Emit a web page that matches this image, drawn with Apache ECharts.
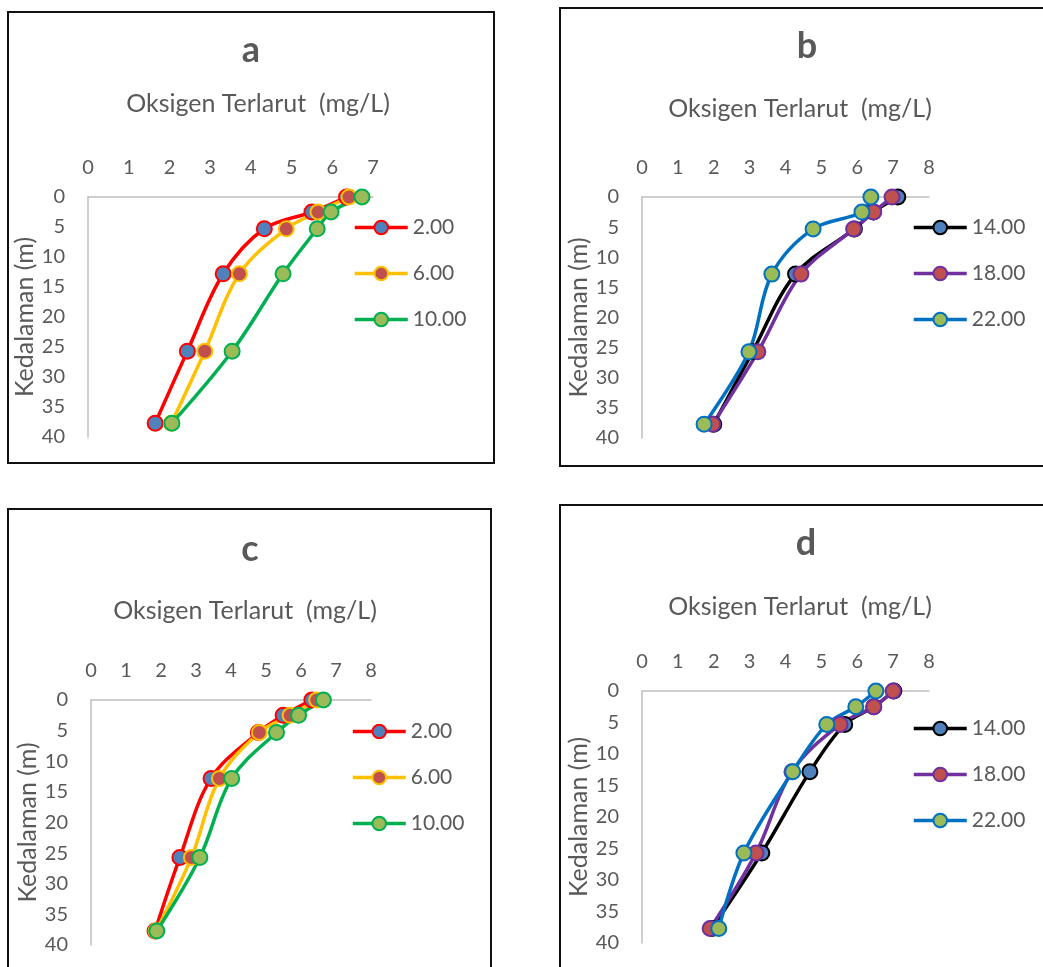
<!DOCTYPE html>
<html>
<head>
<meta charset="utf-8">
<script src="https://cdn.jsdelivr.net/npm/echarts@6/dist/echarts.min.js"></script>
<style>
  html, body { margin: 0; padding: 0; background: #fff; }
  #chart { width: 1043px; height: 967px; }
</style>
</head>
<body>
<div id="chart"></div>
<script>
// depth (m) of each sample
const depths = [0, 2.5, 5.3, 12.8, 25.7, 37.7]

// panel a / c : 2.00, 6.00, 10.00
const namesAC = ['2.00', '6.00', '10.00']
const a_2 = [6.35, 5.5, 4.33, 3.32, 2.44, 1.65]
const a_6 = [6.41, 5.65, 4.87, 3.72, 2.87, 2.05]
const a_10 = [6.73, 5.97, 5.63, 4.79, 3.54, 2.06]

const c_2 = [6.31, 5.49, 4.78, 3.43, 2.54, 1.83]
const c_6 = [6.45, 5.69, 4.81, 3.67, 2.87, 1.86]
const c_10 = [6.64, 5.93, 5.3, 4.02, 3.11, 1.88]

// panel b / d : 14.00, 18.00, 22.00
const namesBD = ['14.00', '18.00', '22.00']
const b_14 = [7.13, 6.45, 5.92, 4.28, 3.08, 2.0]
const b_18 = [6.97, 6.46, 5.9, 4.43, 3.23, 1.97]
const b_22 = [6.38, 6.13, 4.77, 3.62, 2.98, 1.73]

const d_14 = [7.02, 6.46, 5.65, 4.68, 3.34, 1.95]
const d_18 = [7.0, 6.46, 5.52, 4.18, 3.18, 1.9]
const d_22 = [6.52, 5.96, 5.15, 4.2, 2.84, 2.14]

const textColor = '#595959'
const font = 'Lato'

const panels = [
  { letter: 'a', grid: { left: 88, top: 197, width: 285, height: 240 }, xMax: 7,
    letterPos: [251, 50], namePos: [258, 104], legend: [353, 217],
    names: namesAC, data: [a_2, a_6, a_10] },
  { letter: 'b', grid: { left: 642, top: 197, width: 287, height: 241 }, xMax: 8,
    letterPos: [807, 46], namePos: [800, 109], legend: [912, 217],
    names: namesBD, data: [b_14, b_18, b_22] },
  { letter: 'c', grid: { left: 91, top: 700, width: 280, height: 245 }, xMax: 8,
    letterPos: [250, 549], namePos: [245, 611], legend: [351, 721],
    names: namesAC, data: [c_2, c_6, c_10] },
  { letter: 'd', grid: { left: 642, top: 691, width: 287, height: 252 }, xMax: 8,
    letterPos: [806, 543], namePos: [800, 607], legend: [912, 718],
    names: namesBD, data: [d_14, d_18, d_22] }
]

// line colour, marker fill
const stylesAC = [['#FF0000', '#4F81BD'], ['#FFC000', '#C0504D'], ['#00B050', '#9BBB59']]
const stylesBD = [['#000000', '#4F81BD'], ['#7030A0', '#C0504D'], ['#0070C0', '#9BBB59']]

const chart = echarts.init(document.getElementById('chart'))

const graphics = [
  { type: 'rect', shape: { x: 8, y: 12, width: 486, height: 451 }, style: { fill: 'none', stroke: '#111', lineWidth: 2 } },
  { type: 'rect', shape: { x: 560, y: 8, width: 500, height: 458 }, style: { fill: 'none', stroke: '#111', lineWidth: 2 } },
  { type: 'rect', shape: { x: 8, y: 509, width: 483, height: 480 }, style: { fill: 'none', stroke: '#111', lineWidth: 2 } },
  { type: 'rect', shape: { x: 560, y: 505, width: 500, height: 480 }, style: { fill: 'none', stroke: '#111', lineWidth: 2 } }
]

const option = {
  animation: false,
  backgroundColor: '#fff',
  textStyle: { fontFamily: font },
  grid: [],
  xAxis: [],
  yAxis: [],
  legend: [],
  series: [],
  graphic: graphics
}

panels.forEach((p, i) => {
  const styles = p.names === namesAC ? stylesAC : stylesBD
  graphics.push({
    type: 'text', x: p.letterPos[0], y: p.letterPos[1],
    style: { text: p.letter, align: 'center', verticalAlign: 'middle', fill: textColor,
      font: 'bold 36px Lato' }
  })
  graphics.push({
    type: 'text', x: p.namePos[0], y: p.namePos[1],
    style: { text: 'Oksigen Terlarut  (mg/L)', align: 'center', verticalAlign: 'middle', fill: textColor,
      font: '25px Lato' }
  })
  option.grid.push(p.grid)
  option.xAxis.push({
    type: 'value', gridIndex: i, position: 'top', min: 0, max: p.xMax, interval: 1,
    axisLine: { show: true, onZero: false, lineStyle: { color: '#BFBFBF', width: 1.5 } },
    axisTick: { show: false },
    splitLine: { show: false },
    axisLabel: { color: textColor, fontSize: 20, fontFamily: font, margin: 19 }
  })
  option.yAxis.push({
    type: 'value', gridIndex: i, inverse: true, min: 0, max: 40, interval: 5,
    name: 'Kedalaman (m)', nameLocation: 'middle', nameGap: 50, nameRotate: 90,
    nameTextStyle: { color: textColor, fontSize: 25, fontFamily: font },
    axisLine: { show: true, onZero: false, lineStyle: { color: '#BFBFBF', width: 1.5 } },
    axisTick: { show: false },
    splitLine: { show: false },
    axisLabel: { color: textColor, fontSize: 20, fontFamily: font, margin: 23, padding: [8, 0, 0, 0] }
  })
  p.names.forEach((name, k) => {
    option.series.push({
      name: name,
      type: 'line',
      xAxisIndex: i,
      yAxisIndex: i,
      smooth: 0.35,
      symbol: 'circle',
      symbolSize: 15,
      data: p.data[k].map((v, j) => [v, depths[j]]),
      lineStyle: { color: styles[k][0], width: 3.5 },
      itemStyle: { color: styles[k][1], borderColor: styles[k][0], borderWidth: 2 }
    })
  })
  option.legend.push({
    data: p.names,
    orient: 'vertical',
    left: p.legend[0], top: p.legend[1],
    padding: 0,
    itemWidth: 53, itemHeight: 17, itemGap: 25,
    lineStyle: { width: 3.5 },
    textStyle: { color: textColor, fontSize: 21, fontFamily: font },
    selectedMode: false
  })
})

chart.setOption(option)
window.addEventListener('resize', () => chart.resize())
</script>
</body>
</html>
